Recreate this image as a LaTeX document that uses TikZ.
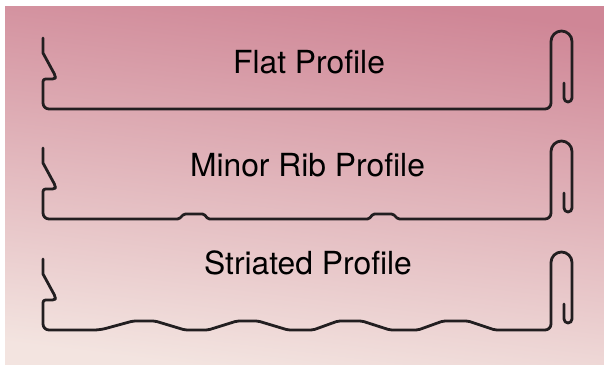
\documentclass[tikz,border=0pt]{standalone}
\usepackage{fontspec}
\setmainfont{TeX Gyre Heros}
\definecolor{bgtop}{RGB}{207,134,150}
\definecolor{bgbot}{RGB}{243,228,224}
\definecolor{ink}{RGB}{34,30,32}
\begin{document}
\begin{tikzpicture}[x=1pt,y=-1pt,
  profile/.style={line width=2.8pt, draw=ink, line join=round, line cap=round},
  ptext/.style={font=\fontsize{31.8}{36}\selectfont, text=black, inner sep=0pt}]
\useasboundingbox (0,0) rectangle (604,364);
\fill[white] (0,0) rectangle (604,364);
\shade[top color=bgtop, bottom color=bgbot, shading angle=-7] (5,6) rectangle (604,364);

% Flat profile
\draw[profile] (43,38) -- (43,53) [rounded corners=2.5] -- (55.5,76) -- (55,79) -- (43,79) -- (43,95)
  [rounded corners=6] -- (43,109) -- (100,109) -- (480,109)
  -- (551,109) -- (551,70) [rounded corners=10.5] -- (551,31) -- (572,31) -- (572,70)
  [rounded corners=4] -- (572,102) -- (564,102) -- (564,83);

% Minor rib profile
\begin{scope}[shift={(0,110)}]
\draw[profile] (43,38) -- (43,53) [rounded corners=2.5] -- (55.5,76) -- (55,79) -- (43,79) -- (43,95)
  [rounded corners=6] -- (43,109) -- (100,109)
  [rounded corners=1.5] -- (179,109) -- (184,104) -- (204,104) -- (208,109)
  -- (369,109) -- (373,104) -- (393,104) -- (398,109) -- (480,109)
  [rounded corners=6] -- (551,109) -- (551,70) [rounded corners=10.5] -- (551,31) -- (572,31) -- (572,70)
  [rounded corners=4] -- (572,102) -- (564,102) -- (564,83);
\end{scope}

% Striated profile
\begin{scope}[shift={(0,221)}]
\draw[profile] (43,38) -- (43,53) [rounded corners=2.5] -- (55.5,76) -- (55,79) -- (43,79) -- (43,95)
  [rounded corners=6] -- (43,109) -- (100,109)
  [rounded corners=2] -- (133,100) -- (155,100) -- (185,109) -- (208,109)
  -- (237,100) -- (258,100) -- (288,109) -- (313,109)
  -- (338,100) -- (362,100) -- (390,109) -- (418,109)
  -- (443,100) -- (468,100) -- (495,109) -- (520,109)
  [rounded corners=6] -- (551,109) -- (551,70) [rounded corners=10.5] -- (551,31) -- (572,31) -- (572,70)
  [rounded corners=4] -- (572,102) -- (564,102) -- (564,83);
\end{scope}

\node[ptext, anchor=base] (flat) at (309,73) {Flat Profile};
\node[ptext, anchor=base] (minor) at (307.5,176) {Minor Rib Profile};
\node[ptext, anchor=base] (striated) at (308,274) {Striated Profile};
\end{tikzpicture}
\end{document}
